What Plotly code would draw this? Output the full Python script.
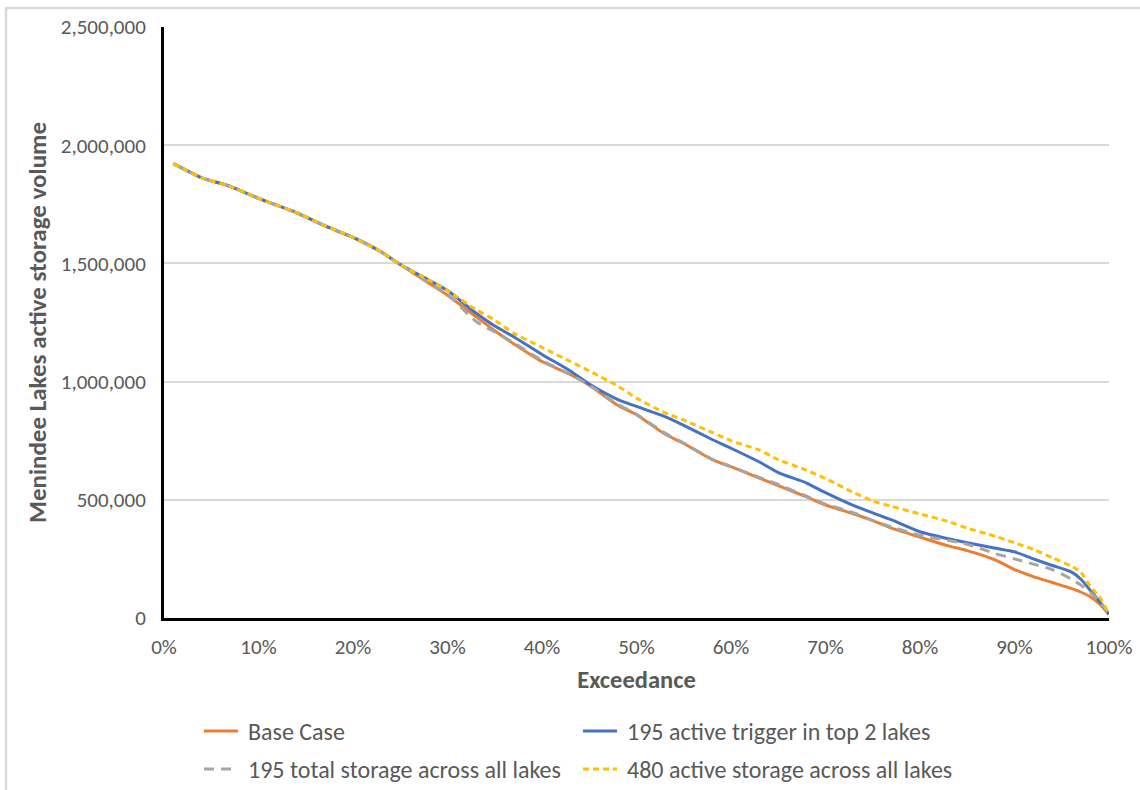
import plotly.graph_objects as go

# Exceedance probability (%) at which storage volumes are tabulated
exceedance = [1, 4, 7, 10, 14, 17, 20, 23, 25, 28, 30, 33, 35, 37, 40, 43, 45, 48, 50,
              53, 55, 58, 60, 63, 65, 68, 70, 73, 75, 77, 80, 83, 85, 88, 90, 92, 94,
              96, 97, 98, 99, 100]

# Shared upper part of the curves (1% .. 25%)
upper = [1922000, 1862000, 1826000, 1775000, 1715000, 1660000, 1610000, 1548000, 1495000]

base_case = upper + [1417000, 1365000, 1275000, 1215000, 1160000, 1085000, 1030000, 985000,
                     900000, 860000, 778000, 738000, 670000, 640000, 592000, 560000, 512000,
                     478000, 440000, 412000, 380000, 342000, 305000, 285000, 245000, 205000,
                     175000, 150000, 125000, 110000, 90000, 60000, 15000]

active_trigger_195 = upper + [1430000, 1385000, 1290000, 1235000, 1190000, 1115000, 1045000,
                              990000, 925000, 895000, 852000, 815000, 755000, 718000, 660000,
                              615000, 571000, 530000, 475000, 445000, 415000, 365000, 335000,
                              318000, 295000, 280000, 250000, 222000, 195000, 165000, 118000,
                              70000, 15000]

total_storage_195 = upper + [1420000, 1370000, 1255000, 1210000, 1165000, 1090000, 1030000,
                             985000, 905000, 862000, 782000, 740000, 672000, 640000, 595000,
                             565000, 515000, 482000, 445000, 412000, 385000, 350000, 328000,
                             312000, 272000, 250000, 228000, 205000, 165000, 140000, 108000,
                             70000, 15000]

active_storage_480 = upper + [1430000, 1385000, 1305000, 1260000, 1205000, 1145000, 1085000,
                              1045000, 982000, 930000, 868000, 837000, 785000, 750000, 710000,
                              670000, 625000, 590000, 530000, 495000, 472000, 440000, 408000,
                              380000, 345000, 318000, 290000, 255000, 220000, 195000, 135000,
                              90000, 15000]

series = [
    ("Base Case", base_case, "#ED7D31", "solid"),
    ("195 active trigger in top 2 lakes", active_trigger_195, "#4472C4", "solid"),
    ("195 total storage across all lakes", total_storage_195, "#A5A5A5", "10px,7px"),
    ("480 active storage across all lakes", active_storage_480, "#FFC000", "6px,4px"),
]

y_ticks = [0, 500000, 1000000, 1500000, 2000000, 2500000]
x_ticks = list(range(0, 101, 10))

W, H = 1140, 790
ML, MR, MT, MB = 164, 31, 27, 172
FONT = "Carlito, Calibri, Lato, sans-serif"
TEXT = "#595959"

pw, ph = W - ML - MR, H - MT - MB
def px_x(v):
    return (v - ML) / pw
def px_y(v):
    return (H - MB - v) / ph

fig = go.Figure()
for name, vals, color, dash in series:
    fig.add_trace(go.Scatter(
        x=exceedance, y=vals, name=name, mode="lines", showlegend=False,
        line=dict(color=color, width=3, dash=dash, shape="spline", smoothing=0.6),
    ))

fig.update_layout(
    width=W, height=H,
    margin=dict(l=ML, r=MR, t=MT, b=MB, pad=0),
    paper_bgcolor="white", plot_bgcolor="white",
    font=dict(family=FONT, size=21, color=TEXT),
    showlegend=False,
    xaxis=dict(
        range=[0, 100], tickvals=x_ticks, ticktext=[f"{v}%" for v in x_ticks],
        showgrid=False, zeroline=False, showline=True, linecolor="black", linewidth=3,
        ticks="", ticklabelstandoff=8, tickfont=dict(size=21), automargin=False,
        title=dict(text="<b>Exceedance</b>", font=dict(size=24.5, color=TEXT), standoff=12),
    ),
    yaxis=dict(
        range=[0, 2500000], tickvals=y_ticks, tickformat=",",
        showgrid=True, gridcolor="#D9D9D9", gridwidth=2, zeroline=False,
        showline=True, linecolor="black", linewidth=3, ticks="", ticklabelstandoff=11,
        tickfont=dict(size=21), automargin=False,
        title=dict(text="<b>Menindee Lakes active storage volume</b>",
                   font=dict(size=25, color=TEXT), standoff=8),
    ),
)

# Legend: two rows of two entries below the plot area
legend_cols = [204, 583]
legend_rows = [731, 769]
for i, (name, _vals, color, dash) in enumerate(series):
    lx = legend_cols[i % 2]
    ly = legend_rows[i // 2]
    fig.add_shape(type="line", xref="paper", yref="paper",
                  x0=px_x(lx), x1=px_x(lx + 34), y0=px_y(ly), y1=px_y(ly),
                  line=dict(color=color, width=3, dash=dash))
    fig.add_annotation(xref="paper", yref="paper", x=px_x(lx + 42), y=px_y(ly),
                       xanchor="left", yanchor="middle", showarrow=False,
                       text=name, font=dict(size=24, color=TEXT))

# Light chart border along the top and left edges
fig.add_shape(type="line", xref="paper", yref="paper",
              x0=px_x(5), x1=px_x(1140), y0=px_y(8), y1=px_y(8),
              line=dict(color="#D9D9D9", width=2.5))
fig.add_shape(type="line", xref="paper", yref="paper",
              x0=px_x(6), x1=px_x(6), y0=px_y(8), y1=px_y(790),
              line=dict(color="#D9D9D9", width=2.5))

fig.write_html("out.html")
